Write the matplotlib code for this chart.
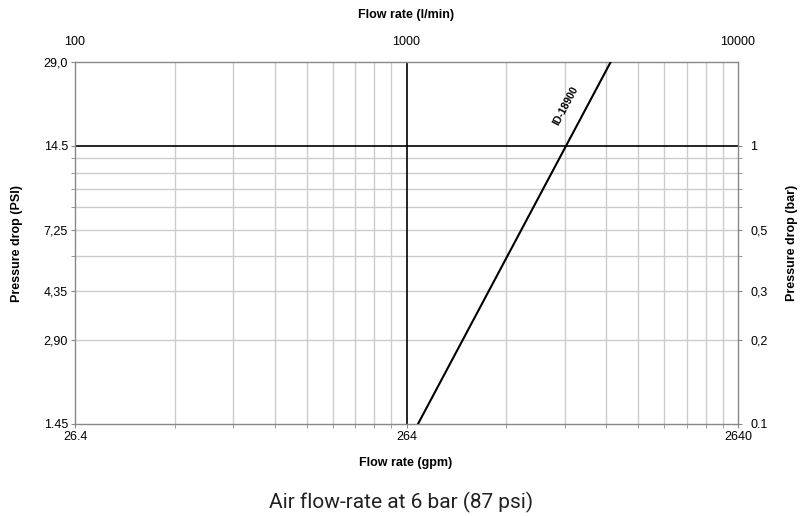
import matplotlib
matplotlib.use("Agg")
import matplotlib.pyplot as plt
import numpy as np

# ---- data ----
flow_lpm = [1083, 3030, 4130]          # l/min
dp_bar = [0.1, 1.0, 2.0]               # bar
series_label = "ID-18900"

x_major = [100, 1000, 10000]
x_top_labels = ["100", "1000", "10000"]
x_bottom_labels = ["26.4", "264", "2640"]
y_left_ticks = [0.1, 0.2, 0.3, 0.5, 1.0, 2.0]
y_left_labels = ["1.45", "2,90", "4,35", "7,25", "14.5", "29,0"]
y_right_ticks = [0.1, 0.2, 0.3, 0.5, 1.0]
y_right_labels = ["0.1", "0,2", "0,3", "0,5", "1"]
x_grid = [200, 300, 400, 500, 600, 700, 800, 900,
          2000, 3000, 4000, 5000, 6000, 7000, 8000, 9000]
y_grid = [0.2, 0.3, 0.4, 0.5, 0.6, 0.7, 0.8, 0.9]

plt.rcParams['font.family'] = ['Liberation Sans', 'DejaVu Sans']

W, H = 809, 516
fig = plt.figure(figsize=(W / 100, H / 100), dpi=100)
l, r, b, t = 75 / W, 738 / W, 1 - 424 / H, 1 - 62 / H
ax = fig.add_axes([l, b, r - l, t - b])
ax.set_xscale('log')
ax.set_yscale('log')
ax.set_xlim(100, 10000)
ax.set_ylim(0.1, 2.0)

grid_c = '#cccccc'
for xv in x_grid:
    ax.axvline(xv, color=grid_c, lw=1, zorder=1)
for yv in y_grid:
    ax.axhline(yv, color=grid_c, lw=1, zorder=1)
ax.axvline(1000, color='black', lw=1.2, zorder=2)
ax.axhline(1.0, color='black', lw=1.2, zorder=2)

ax.plot(flow_lpm, dp_bar, color='black', lw=1.5, zorder=3)

# label along line
xl, yl = 10 ** (2 + (566 - 75) / 331.5), 10 ** (np.log10(2) - (106 - 62) / 279.0)
ax.text(xl, yl, series_label, rotation=62, fontsize=7.5, fontweight='bold',
        ha='center', va='center', rotation_mode='anchor')

spine_c = '#888888'
for s in ax.spines.values():
    s.set_color(spine_c)
    s.set_linewidth(1)

ax.xaxis.set_major_locator(matplotlib.ticker.FixedLocator(x_major))
ax.xaxis.set_minor_locator(matplotlib.ticker.FixedLocator(x_grid))
ax.set_xticklabels(x_bottom_labels)
ax.xaxis.set_minor_formatter(matplotlib.ticker.NullFormatter())
ax.yaxis.set_major_locator(matplotlib.ticker.FixedLocator(y_left_ticks))
ax.yaxis.set_minor_locator(matplotlib.ticker.FixedLocator([0.4, 0.6, 0.7, 0.8, 0.9]))
ax.set_yticklabels(y_left_labels)
ax.yaxis.set_minor_formatter(matplotlib.ticker.NullFormatter())
ax.tick_params(which='both', direction='out', length=3, color=spine_c,
               labelsize=9, pad=2)

# top axis
axt = ax.twiny()
axt.set_xscale('log')
axt.set_xlim(ax.get_xlim())
axt.xaxis.set_major_locator(matplotlib.ticker.FixedLocator(x_major))
axt.xaxis.set_minor_locator(matplotlib.ticker.NullLocator())
axt.set_xticklabels(x_top_labels)
axt.tick_params(length=0, labelsize=9, pad=10)
for s in axt.spines.values():
    s.set_visible(False)

# right axis
axr = ax.twinx()
axr.set_yscale('log')
axr.set_ylim(ax.get_ylim())
axr.yaxis.set_major_locator(matplotlib.ticker.FixedLocator(y_right_ticks))
axr.yaxis.set_minor_locator(matplotlib.ticker.FixedLocator([0.4, 0.6, 0.7, 0.8, 0.9]))
axr.set_yticklabels(y_right_labels)
axr.yaxis.set_minor_formatter(matplotlib.ticker.NullFormatter())
axr.tick_params(which='both', direction='out', length=3, color=spine_c,
                labelsize=9, pad=6)
for s in axr.spines.values():
    s.set_visible(False)

fig.text(406 / W, 1 - 15 / H, "Flow rate (l/min)", ha='center', va='center',
         fontsize=9, fontweight='bold')
fig.text(406 / W, 1 - 463 / H, "Flow rate (gpm)", ha='center', va='center',
         fontsize=9, fontweight='bold')
fig.text(17 / W, 1 - 243 / H, "Pressure drop (PSI)", ha='center', va='center',
         rotation=90, fontsize=9, fontweight='bold')
fig.text(792 / W, 1 - 243 / H, "Pressure drop (bar)", ha='center', va='center',
         rotation=90, fontsize=9, fontweight='bold')
fig.text(401 / W, 1 - 508 / H, "Air flow-rate at 6 bar (87 psi)", ha='center',
         va='baseline', fontsize=15, family=['Roboto', 'DejaVu Sans'],
         fontweight='normal', color='#222222')

fig.savefig("out.png", dpi=100)
